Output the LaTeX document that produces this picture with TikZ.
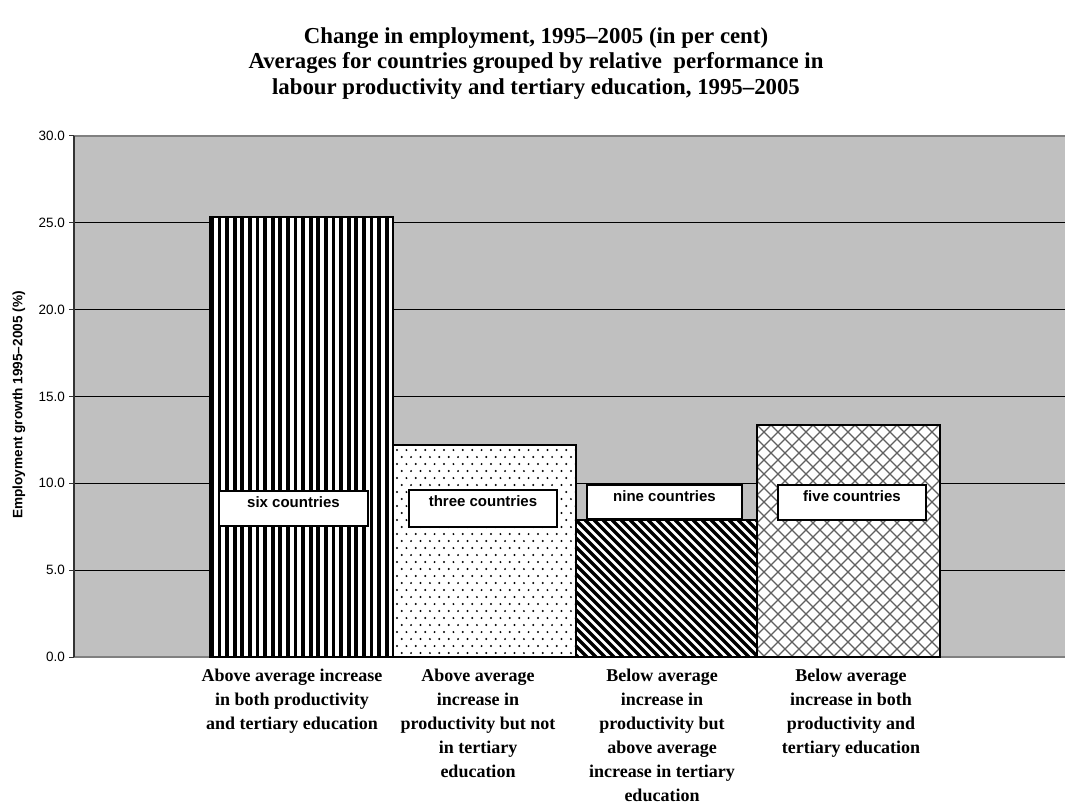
\documentclass[tikz,border=0pt]{standalone}
\usepackage{fontspec}
\setmainfont{Liberation Serif}
\setsansfont{Liberation Sans}
\usetikzlibrary{positioning}
\definecolor{plotgray}{RGB}{192,192,192}
\definecolor{framegray}{RGB}{128,128,128}
\tikzset{
    grid/.style={draw=black, line width=0.9pt},
    barline/.style={draw=black, line width=2.4pt},
    tag/.style={
        draw=black,
        line width=2pt,
        fill=white,
        inner sep=0pt
    },
    tagtext/.style={
        font=\sffamily\bfseries\fontsize{15}{17}\selectfont,
        inner sep=2pt
    },
    category/.style={
        font=\bfseries\fontsize{18}{24}\selectfont,
        align=center,
        anchor=north,
        inner sep=0pt
    },
    ticklabel/.style={
        font=\sffamily\fontsize{13.5}{15}\selectfont,
        anchor=east,
        inner sep=0pt
    }
}

\begin{document}
\begin{tikzpicture}[x=1pt,y=-1pt]
    \useasboundingbox (0,0) rectangle (1065,806);

    % title
    \node[font=\bfseries\fontsize{22.8}{25.5}\selectfont, align=center, anchor=north] (title) at (536,24)
        {Change in employment, 1995--2005 (in per cent)\\
         Averages for countries grouped by relative \ performance in\\
         labour productivity and tertiary education, 1995--2005};

    % plot area
    \fill[plotgray] (74,136) rectangle (1065,657);
    \foreach \v in {5,10,...,25}
        \draw[grid] (74,{657-17.37*\v}) -- (1065,{657-17.37*\v});
    \draw[framegray, line width=1.5pt] (74,136) -- (1065,136);
    \draw[framegray, line width=2pt] (74,657) -- (1065,657);
    \draw[black!80, line width=1.5pt] (74,136) -- (74,657);
    \foreach \v in {0,5,...,30} {
        \draw[black!80, line width=1pt] (69,{657-17.37*\v}) -- (74,{657-17.37*\v});
        \node[ticklabel] (tick\v) at (65,{657-17.37*\v}) {\v.0};
    }
    \node[rotate=90, font=\sffamily\bfseries\fontsize{13.6}{15}\selectfont] (ytitle) at (19,405)
        {Employment growth 1995--2005 (\%)};

    % six countries
    \begin{scope}
        \clip (210,217) rectangle (393,657);
        \fill[white] (210,217) rectangle (393,657);
        \foreach \k in {0,...,24}
            \fill ({210+7.6*\k},217) rectangle ({213.8+7.6*\k},657);
    \end{scope}
    \draw[barline] (210,217) rectangle (393,657);

    % three countries
    \begin{scope}
        \clip (393,445) rectangle (576,657);
        \fill[white] (393,445) rectangle (576,657);
        \foreach \r in {0,...,30}
            \foreach \c in {0,...,20}
                \fill ({397+9.4*\c+4.7*mod(\r,2)},{450+7*\r}) circle (1.1pt);
    \end{scope}
    \draw[barline] (393,445) rectangle (576,657);

    % nine countries
    \begin{scope}
        \clip (576,520) rectangle (757,657);
        \fill[white] (576,520) rectangle (757,657);
        \foreach \k in {-16,...,21}
            \draw[line width=3.3pt] ({576+9*\k},520) -- ({713+9*\k},657);
    \end{scope}
    \draw[barline] (576,520) rectangle (757,657);

    % five countries
    \begin{scope}
        \clip (757,425) rectangle (940,657);
        \fill[white] (757,425) rectangle (940,657);
        \foreach \k in {-17,...,31} {
            \draw[framegray!75!black, line width=1.2pt] ({757+14*\k},425) -- ({989+14*\k},657);
            \draw[framegray!75!black, line width=1.2pt] ({757+14*\k},425) -- ({525+14*\k},657);
        }
    \end{scope}
    \draw[barline] (757,425) rectangle (940,657);

    % country boxes
    \node[tag, minimum width=149pt, minimum height=35pt] (sixbox) at (293.5,508.5) {};
    \node[tagtext, below=4.5pt of sixbox.north] (six) {six countries};
    \node[tag, minimum width=148pt, minimum height=37pt] (threebox) at (483,508.5) {};
    \node[tagtext, below=4.5pt of threebox.north] (three) {three countries};
    \node[tag, minimum width=155pt, minimum height=34pt] (ninebox) at (664.5,502) {};
    \node[tagtext, below=4.5pt of ninebox.north] (nine) {nine countries};
    \node[tag, minimum width=148pt, minimum height=35pt] (fivebox) at (852,502.5) {};
    \node[tagtext, below=4.5pt of fivebox.north] (five) {five countries};

    % category labels
    \node[category] (catA) at (292,669)
        {Above average increase\\ in both productivity\\ and tertiary education};
    \node[category] (catB) at (478,669)
        {Above average\\ increase in\\ productivity but not\\ in tertiary\\ education};
    \node[category] (catC) at (662,669)
        {Below average\\ increase in\\ productivity but\\ above average\\ increase in tertiary\\ education};
    \node[category] (catD) at (851,669)
        {Below average\\ increase in both\\ productivity and\\ tertiary education};
\end{tikzpicture}
\end{document}
